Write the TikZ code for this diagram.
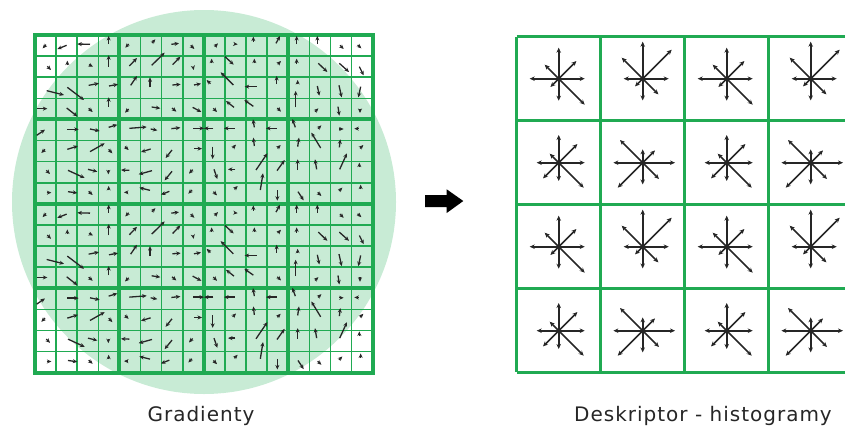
\documentclass[tikz,border=0pt]{standalone}
\usepackage{fontspec}
\setmainfont{DejaVu Sans}
\usetikzlibrary{arrows.meta}
\definecolor{gridgreen}{RGB}{32,170,82}
\definecolor{disc}{RGB}{200,235,213}
\definecolor{ink}{RGB}{38,38,38}
\tikzset{
  gradarrow/.style={draw=ink, line width=1.3pt, -{Stealth[length=4.5pt,width=4pt]}},
  binarrow/.style={draw=ink, line width=1.6pt, -{Stealth[length=5pt,width=4.5pt]}},
  thingrid/.style={draw=gridgreen, line width=1.6pt},
  thickgrid/.style={draw=gridgreen, line width=4pt},
  cellgrid/.style={draw=gridgreen, line width=2.5pt},
  caption/.style={text=black!85, font=\fontsize{20}{24}\selectfont\addfontfeatures{LetterSpace=5}, anchor=base},
}
% one orientation histogram: centre, then E NE N NW W SW S SE
% (diagonals given by their x offset)
\newcommand{\orienthist}[9]{%
  \begin{scope}[shift={(#1)}]
    \draw[binarrow] (0,0) -- (#2,0);
    \draw[binarrow] (0,0) -- (#3,-#3);
    \draw[binarrow] (0,0) -- (0,-#4);
    \draw[binarrow] (0,0) -- (-#5,-#5);
    \draw[binarrow] (0,0) -- (-#6,0);
    \draw[binarrow] (0,0) -- (-#7,#7);
    \draw[binarrow] (0,0) -- (0,#8);
    \draw[binarrow] (0,0) -- (#9,#9);
    \fill[ink] (0,0) circle (2.3);
  \end{scope}}
\newcommand{\histA}[1]{\orienthist{#1}{26}{17.7}{31}{14}{29}{8.3}{22}{26}}
\newcommand{\histB}[1]{\orienthist{#1}{26}{29}{37}{21}{19}{7.7}{21.7}{15.7}}
\newcommand{\histC}[1]{\orienthist{#1}{26}{18.7}{27.7}{9}{22}{15.7}{18.3}{25}}
\newcommand{\histD}[1]{\orienthist{#1}{32.3}{12.3}{13.3}{22.7}{29.3}{25}{21.7}{16.3}}
% gradient samples, left 8x8 block (units of 1/3 px)
\newcommand{\gradblockleft}{%
  % row 0
  \draw[gradarrow] (48,44)--(38,55);
  \draw[gradarrow] (110,46)--(82,57);
  \draw[gradarrow] (180,43)--(142,42);
  \draw[gradarrow] (236,42)--(236,18);
  \draw[gradarrow] (296,42)--(286,53);
  \draw[gradarrow] (366,39)--(376,28);
  \draw[gradarrow] (424,43)--(447,40);
  \draw[gradarrow] (482,46)--(493,57);
  % row 1
  \draw[gradarrow] (52,109)--(63,120);
  \draw[gradarrow] (112,106)--(112,92);
  \draw[gradarrow] (177,104)--(189,110);
  \draw[gradarrow] (236,110)--(236,76);
  \draw[gradarrow] (298,108)--(321,84);
  \draw[gradarrow] (365,106)--(404,68);
  \draw[gradarrow] (428,104)--(451,80);
  \draw[gradarrow] (489,110)--(491,120);
  % row 2
  \draw[gradarrow] (50,182)--(102,195);
  \draw[gradarrow] (112,172)--(162,210);
  \draw[gradarrow] (176,166)--(207,160);
  \draw[gradarrow] (237,168)--(264,163);
  \draw[gradarrow] (302,166)--(321,138);
  \draw[gradarrow] (360,172)--(360,142);
  \draw[gradarrow] (427,165)--(452,163);
  \draw[gradarrow] (492,165)--(513,161);
  % row 3
  \draw[gradarrow] (22,236)--(52,236);
  \draw[gradarrow] (110,234)--(142,259);
  \draw[gradarrow] (176,235)--(188,246);
  \draw[gradarrow] (236,230)--(236,202);
  \draw[gradarrow] (296,237)--(285,248);
  \draw[gradarrow] (365,231)--(391,235);
  \draw[gradarrow] (426,234)--(439,245);
  \draw[gradarrow] (488,232)--(514,246);
  % row 4
  \draw[gradarrow] (20,316)--(45,299);
  \draw[gradarrow] (112,298)--(146,298);
  \draw[gradarrow] (180,297)--(209,303);
  \draw[gradarrow] (236,292)--(262,284);
  \draw[gradarrow] (298,295)--(350,291);
  \draw[gradarrow] (362,297)--(382,301);
  \draw[gradarrow] (424,296)--(451,293);
  \draw[gradarrow] (490,295)--(522,295);
  % row 5
  \draw[gradarrow] (45,358)--(34,369);
  \draw[gradarrow] (112,358)--(144,348);
  \draw[gradarrow] (180,365)--(224,340);
  \draw[gradarrow] (236,358)--(247,370);
  \draw[gradarrow] (285,350)--(296,360);
  \draw[gradarrow] (362,357)--(333,366);
  \draw[gradarrow] (426,360)--(407,384);
  \draw[gradarrow] (492,356)--(516,356);
  % row 6
  \draw[gradarrow] (49,421)--(60,432);
  \draw[gradarrow] (114,421)--(164,444);
  \draw[gradarrow] (174,418)--(202,425);
  \draw[gradarrow] (235,420)--(235,433);
  \draw[gradarrow] (298,421)--(273,420);
  \draw[gradarrow] (366,422)--(326,433);
  \draw[gradarrow] (426,424)--(404,451);
  \draw[gradarrow] (488,419)--(477,431);
  % row 7
  \draw[gradarrow] (50,488)--(64,488);
  \draw[gradarrow] (114,485)--(142,489);
  \draw[gradarrow] (176,484)--(188,495);
  \draw[gradarrow] (236,481)--(236,468);
  \draw[gradarrow] (294,487)--(282,487);
  \draw[gradarrow] (360,481)--(328,473);
  \draw[gradarrow] (418,484)--(393,494);
  \draw[gradarrow] (486,480)--(475,491);
}
% gradient samples, right 8x8 block
\newcommand{\gradblockright}{%
  % row 0
  \draw[gradarrow] (44,50)--(54,40);
  \draw[gradarrow] (104,42)--(113,43);
  \draw[gradarrow] (160,36)--(160,20);
  \draw[gradarrow] (228,40)--(240,18);
  \draw[gradarrow] (290,42)--(290,18);
  \draw[gradarrow] (352,42)--(352,18);
  \draw[gradarrow] (420,46)--(431,57);
  \draw[gradarrow] (473,45)--(484,55);
  % row 1
  \draw[gradarrow] (35,100)--(35,86);
  \draw[gradarrow] (75,80)--(101,104);
  \draw[gradarrow] (163,100)--(163,86);
  \draw[gradarrow] (233,103)--(243,93);
  \draw[gradarrow] (290,102)--(290,86);
  \draw[gradarrow] (355,100)--(382,126);
  \draw[gradarrow] (418,100)--(447,126);
  \draw[gradarrow] (478,110)--(491,136);
  % row 2
  \draw[gradarrow] (31,161)--(20,150);
  \draw[gradarrow] (100,165)--(62,127);
  \draw[gradarrow] (170,170)--(134,170);
  \draw[gradarrow] (230,162)--(230,138);
  \draw[gradarrow] (293,163)--(293,150);
  \draw[gradarrow] (352,168)--(358,197);
  \draw[gradarrow] (417,166)--(425,202);
  \draw[gradarrow] (482,170)--(475,202);
  % row 3
  \draw[gradarrow] (40,235)--(51,246);
  \draw[gradarrow] (102,232)--(78,213);
  \draw[gradarrow] (160,229)--(133,210);
  \draw[gradarrow] (232,234)--(243,245);
  \draw[gradarrow] (287,232)--(287,183);
  \draw[gradarrow] (345,245)--(355,235);
  \draw[gradarrow] (414,230)--(418,257);
  \draw[gradarrow] (480,236)--(480,249);
  % row 4
  \draw[gradarrow] (40,295)--(12,295);
  \draw[gradarrow] (104,295)--(72,295);
  \draw[gradarrow] (163,292)--(159,268);
  \draw[gradarrow] (230,295)--(198,295);
  \draw[gradarrow] (286,292)--(277,267);
  \draw[gradarrow] (354,296)--(364,286);
  \draw[gradarrow] (418,297)--(431,297);
  \draw[gradarrow] (476,296)--(463,296);
  % row 5
  \draw[gradarrow] (38,350)--(38,387);
  \draw[gradarrow] (98,354)--(108,344);
  \draw[gradarrow] (163,348)--(160,323);
  \draw[gradarrow] (232,355)--(242,345);
  \draw[gradarrow] (293,350)--(297,323);
  \draw[gradarrow] (362,354)--(334,308);
  \draw[gradarrow] (418,352)--(421,328);
  \draw[gradarrow] (480,355)--(490,345);
  % row 6
  \draw[gradarrow] (42,418)--(52,447);
  \draw[gradarrow] (106,418)--(84,418);
  \draw[gradarrow] (168,420)--(202,370);
  \draw[gradarrow] (231,422)--(254,390);
  \draw[gradarrow] (293,420)--(293,388);
  \draw[gradarrow] (350,418)--(345,388);
  \draw[gradarrow] (419,418)--(441,370);
  \draw[gradarrow] (478,412)--(478,398);
  % row 7
  \draw[gradarrow] (40,485)--(51,496);
  \draw[gradarrow] (103,478)--(113,468);
  \draw[gradarrow] (181,480)--(189,430);
  \draw[gradarrow] (232,480)--(232,512);
  \draw[gradarrow] (294,485)--(311,511);
  \draw[gradarrow] (353,487)--(364,498);
  \draw[gradarrow] (417,483)--(427,473);
  \draw[gradarrow] (482,478)--(482,464);
}
\begin{document}
\begin{tikzpicture}[x=1pt,y=-1pt]
  \useasboundingbox (0,0) rectangle (845,431);
  \clip (0,0) rectangle (845,431);

  % Gaussian window
  \fill[disc] (204,202) circle (192);

  % 16x16 sample grid with 4x4 subregions
  \foreach \i in {0,...,16} {
    \draw[thingrid] ({35+\i*21.1},35) -- ({35+\i*21.1},372.6);
    \draw[thingrid] (35,{35+\i*21.1}) -- (372.6,{35+\i*21.1});
  }
  \foreach \i in {1,2,3} {
    \draw[thickgrid] ({35+\i*84.4},35) -- ({35+\i*84.4},372.6);
    \draw[thickgrid] (35,{35+\i*84.4}) -- (372.6,{35+\i*84.4});
  }
  \draw[thickgrid] (35,35) rectangle (372.6,372.6);

  % gradient arrows (pattern repeats in the lower half)
  \begin{scope}[shift={(30,30)},scale=1/3]\gradblockleft\end{scope}
  \begin{scope}[shift={(200,30)},scale=1/3]\gradblockright\end{scope}
  \begin{scope}[shift={(30,198.8)},scale=1/3]\gradblockleft\end{scope}
  \begin{scope}[shift={(200,198.8)},scale=1/3]\gradblockright\end{scope}

  % block arrow
  \fill[black] (425,195) -- (446.7,195) -- (446.7,189.3) -- (463.3,201)
    -- (446.7,213) -- (446.7,207) -- (425,207) -- cycle;

  % descriptor grid
  \foreach \i in {0,...,4} {
    \draw[cellgrid] ({516.7+\i*84},36.7) -- ({516.7+\i*84},371.7);
    \draw[cellgrid] (516.7,{36.7+\i*84}) -- (860,{36.7+\i*84});
  }

  % orientation histograms
  \foreach \r in {0,2} {
    \histA{558.7,{78.7+\r*84}}
    \histB{642.7,{78.7+\r*84}}
    \histA{726.7,{78.7+\r*84}}
    \histB{810.7,{78.7+\r*84}}
    \histC{558.7,{162.7+\r*84}}
    \histD{642.7,{162.7+\r*84}}
    \histC{726.7,{162.7+\r*84}}
    \histD{810.7,{162.7+\r*84}}
  }

  % captions
  \node[caption] (capgrad) at (201,421.5) {Gradienty};
  \node[caption] (capdesc) at (703,421.5) {Deskriptor - histogramy};
\end{tikzpicture}
\end{document}
